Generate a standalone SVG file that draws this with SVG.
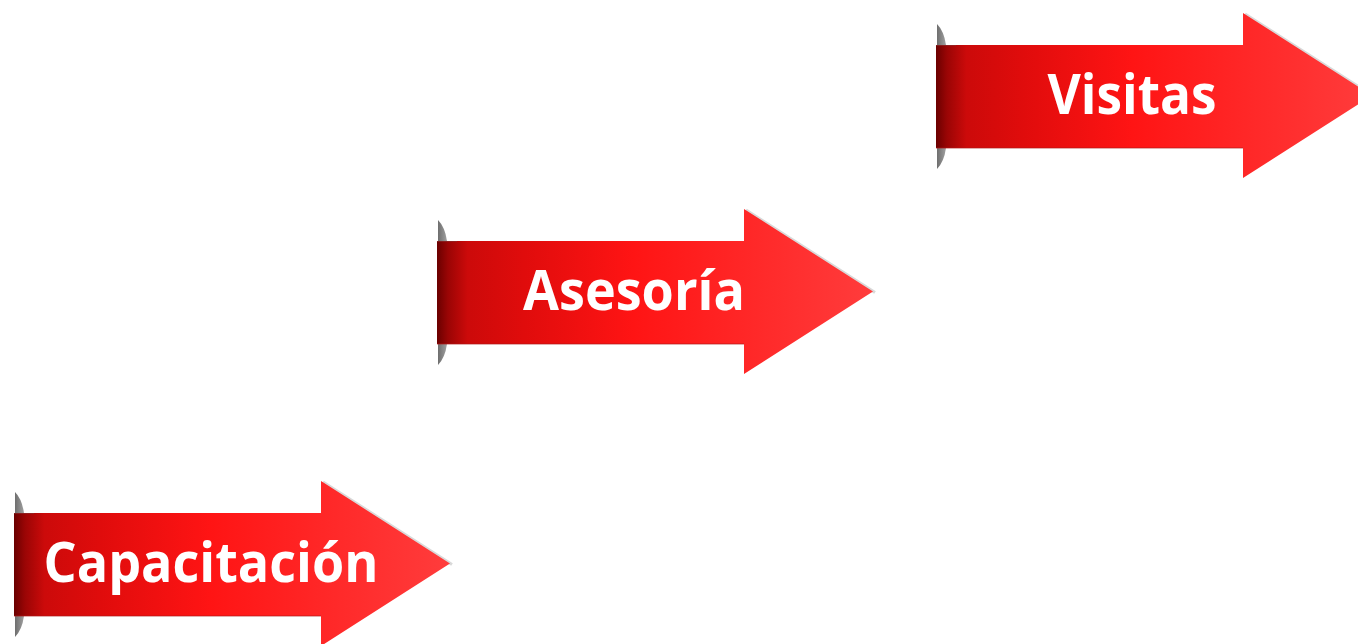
<svg xmlns="http://www.w3.org/2000/svg" width="1358" height="644" viewBox="0 0 1358 644">
<defs>
<linearGradient id="body" x1="0" y1="0" x2="436" y2="0" gradientUnits="userSpaceOnUse">
<stop offset="0" stop-color="#6a0000"/>
<stop offset="0.025" stop-color="#9a0505"/>
<stop offset="0.07" stop-color="#cc0a0a"/>
<stop offset="0.2" stop-color="#e00c0c"/>
<stop offset="0.45" stop-color="#ff1414"/>
<stop offset="0.75" stop-color="#ff2a2a"/>
<stop offset="1" stop-color="#ff3c3c"/>
</linearGradient>
<linearGradient id="curl" x1="0" y1="0" x2="1" y2="0">
<stop offset="0" stop-color="#6e6e6e"/>
<stop offset="1" stop-color="#a0a0a0"/>
</linearGradient>
<g id="arrow">
<path d="M1,11 Q8,18 10,32 L1,32 Z" fill="url(#curl)"/>
<path d="M1,156 Q8,149 10,135 L1,135 Z" fill="url(#curl)"/>
<polyline points="309,1 438,83.5" fill="none" stroke="#d9d9d9" stroke-width="3"/>
<path d="M0,32 H307 V0 L436,82.5 L307,165 V135 H0 Z" fill="url(#body)"/>
<line x1="0" y1="135" x2="307" y2="135" stroke="#b01818" stroke-width="1.2" opacity="0.7"/>
<line x1="0" y1="32.5" x2="20" y2="32.5" stroke="#8a3030" stroke-width="1" opacity="0.6"/>
</g>
<style>
.lbl{font-family:"Open Sans","DejaVu Sans",sans-serif;font-weight:bold;font-size:56px;fill:#ffffff;text-anchor:middle}
</style>
</defs>
<g id="connectors"/>
<g id="node-capacitacion">
<use href="#arrow" transform="translate(14,481)"/>
<text class="lbl" x="211" y="582" textLength="335" lengthAdjust="spacingAndGlyphs">Capacitación</text>
</g>
<g id="node-asesoria">
<use href="#arrow" transform="translate(437,209)"/>
<text class="lbl" x="634" y="310" textLength="222" lengthAdjust="spacingAndGlyphs">Asesoría</text>
</g>
<g id="node-visitas">
<use href="#arrow" transform="translate(936,13)"/>
<text class="lbl" x="1132" y="114" textLength="169" lengthAdjust="spacingAndGlyphs">Visitas</text>
</g>
</svg>
